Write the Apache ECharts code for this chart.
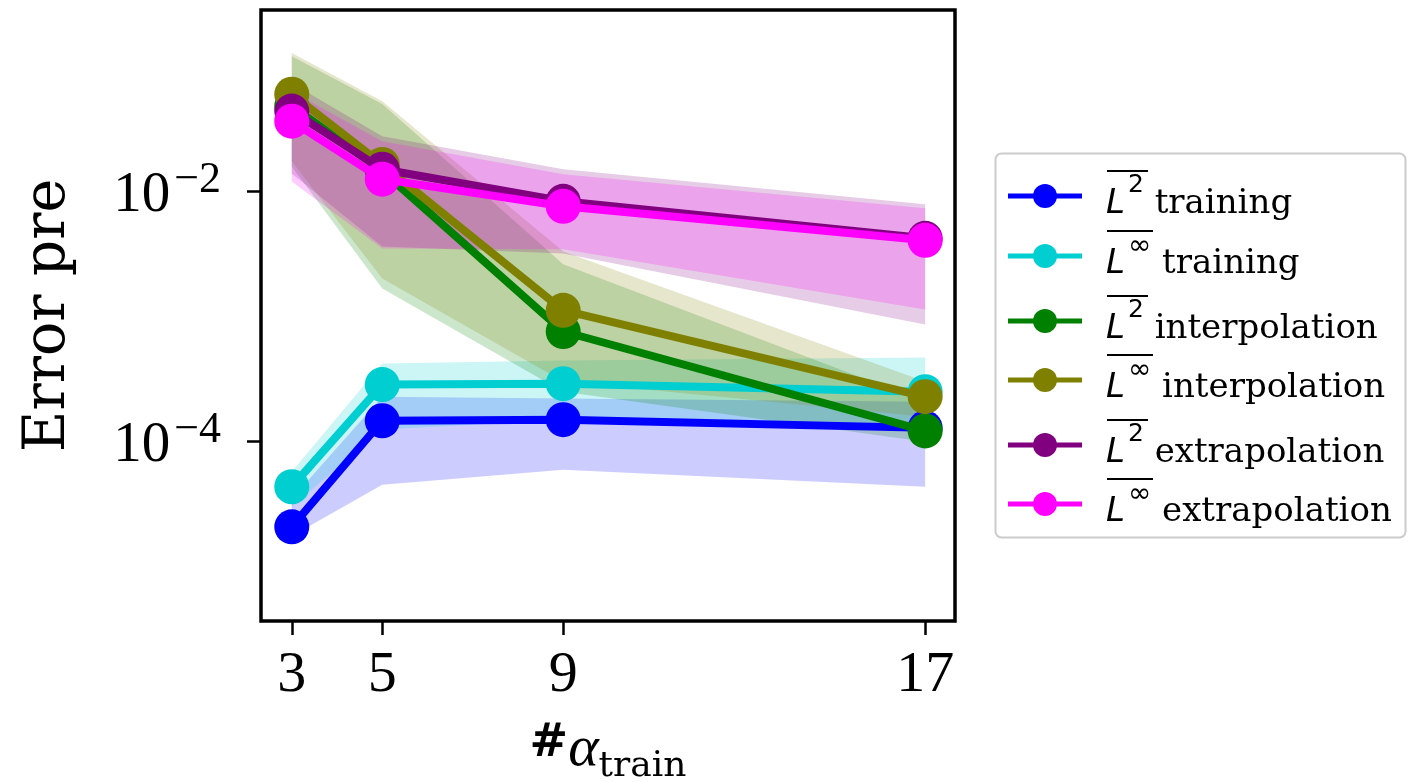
<!DOCTYPE html>
<html>
<head>
<meta charset="utf-8">
<script src="https://cdn.jsdelivr.net/npm/echarts@6/dist/echarts.min.js"></script>
<style>
  html, body { margin: 0; padding: 0; background: #fff; }
  #chart { width: 1414px; height: 782px; }
</style>
</head>
<body>
<div id="chart"></div>
<script>
// Number of training parameters (x positions)
const alphaTrain = [3, 5, 9, 17];
const xTickValues = [3, 5, 9, 17];
const yTickValues = [1e-4, 1e-2];

// Mean error and spread (lower / upper) for each metric
const l2TrainMean = [2.09e-5, 1.47e-4, 1.50e-4, 1.29e-4];
const l2TrainLow  = [1.77e-5, 4.53e-5, 5.97e-5, 4.37e-5];
const l2TrainHigh = [3.50e-5, 2.29e-4, 2.21e-4, 2.09e-4];

const linfTrainMean = [4.37e-5, 2.86e-4, 2.91e-4, 2.51e-4];
const linfTrainLow  = [3.02e-5, 1.25e-4, 1.50e-4, 1.32e-4];
const linfTrainHigh = [5.75e-5, 4.21e-4, 4.45e-4, 4.70e-4];

const l2InterpMean = [4.79e-2, 1.45e-2, 7.59e-4, 1.22e-4];
const l2InterpLow  = [1.58e-2, 1.67e-3, 2.51e-4, 1.00e-4];
const l2InterpHigh = [1.20e-1, 4.97e-2, 2.61e-3, 2.09e-4];

const linfInterpMean = [5.97e-2, 1.64e-2, 1.12e-3, 2.29e-4];
const linfInterpLow  = [1.74e-2, 2.01e-3, 3.02e-4, 1.58e-4];
const linfInterpHigh = [1.27e-1, 5.25e-2, 3.31e-3, 3.02e-4];

const l2ExtrapMean = [4.37e-2, 1.50e-2, 8.32e-3, 4.21e-3];
const l2ExtrapLow  = [1.39e-2, 3.63e-3, 3.19e-3, 8.63e-4];
const l2ExtrapHigh = [7.31e-2, 2.75e-2, 1.50e-2, 7.87e-3];

const linfExtrapMean = [3.63e-2, 1.25e-2, 7.59e-3, 4.06e-3];
const linfExtrapLow  = [1.20e-2, 3.50e-3, 3.44e-3, 1.14e-3];
const linfExtrapHigh = [6.31e-2, 2.51e-2, 1.37e-2, 7.31e-3];

const metrics = [
  { norm: '2', kind: 'training',      color: '#0000ff', mean: l2TrainMean,    low: l2TrainLow,    high: l2TrainHigh },
  { norm: '∞', kind: 'training',      color: '#00ced1', mean: linfTrainMean,  low: linfTrainLow,  high: linfTrainHigh },
  { norm: '2', kind: 'interpolation', color: '#008000', mean: l2InterpMean,   low: l2InterpLow,   high: l2InterpHigh },
  { norm: '∞', kind: 'interpolation', color: '#808000', mean: linfInterpMean, low: linfInterpLow, high: linfInterpHigh },
  { norm: '2', kind: 'extrapolation', color: '#800080', mean: l2ExtrapMean,   low: l2ExtrapLow,   high: l2ExtrapHigh },
  { norm: '∞', kind: 'extrapolation', color: '#ff00ff', mean: linfExtrapMean, low: linfExtrapLow, high: linfExtrapHigh }
];

function hexToRgba(hex, a) {
  const n = parseInt(hex.slice(1), 16);
  return 'rgba(' + ((n >> 16) & 255) + ',' + ((n >> 8) & 255) + ',' + (n & 255) + ',' + a + ')';
}

const chart = echarts.init(document.getElementById('chart'), null, { renderer: 'canvas' });

const series = [];

// Shaded spread bands, drawn as one polygon per metric
metrics.forEach(function (m, k) {
  series.push({
    type: 'custom',
    name: 'band' + k,
    coordinateSystem: 'cartesian2d',
    silent: true,
    z: 1,
    data: alphaTrain.map(function (x, i) { return [x, m.low[i], m.high[i]]; }),
    encode: { x: 0, y: [1, 2] },
    renderItem: function (params, api) {
      if (params.dataIndexInside !== 0) return null;
      const n = params.dataInsideLength;
      const upper = [], lower = [];
      for (let i = 0; i < n; i++) {
        const x = api.value(0, i);
        upper.push(api.coord([x, api.value(2, i)]));
        lower.push(api.coord([x, api.value(1, i)]));
      }
      return {
        type: 'polygon',
        shape: { points: upper.concat(lower.reverse()) },
        style: { fill: hexToRgba(m.color, 0.2), stroke: null }
      };
    }
  });
});

// Mean curves with markers
metrics.forEach(function (m, k) {
  series.push({
    type: 'line',
    name: m.norm + ' ' + m.kind,
    z: 3 + k,
    data: alphaTrain.map(function (x, i) { return [x, m.mean[i]]; }),
    symbol: 'circle',
    symbolSize: 35,
    showSymbol: true,
    lineStyle: { color: m.color, width: 8 },
    itemStyle: { color: m.color },
    emphasis: { disabled: true }
  });
});

// Legend built from the metric list
const legendRows = [196, 256, 321, 380, 445, 504];
const legendItems = [];
legendItems.push({
  type: 'rect',
  shape: { x: 995.5, y: 153.5, width: 410, height: 384, r: 6 },
  style: { fill: '#fff', stroke: '#cccccc', lineWidth: 2 },
  z: 100
});
metrics.forEach(function (m, k) {
  const y = legendRows[k];
  legendItems.push({
    type: 'line', z: 101,
    shape: { x1: 1008, y1: y, x2: 1082, y2: y },
    style: { stroke: m.color, lineWidth: 5 }
  });
  legendItems.push({
    type: 'circle', z: 102,
    shape: { cx: 1045, cy: y, r: 12 },
    style: { fill: m.color }
  });
  legendItems.push({
    type: 'text', z: 102,
    x: 1106, y: y + 1,
    style: {
      text: '{L|L}{s|' + m.norm + '}{t| ' + m.kind + '}',
      verticalAlign: 'middle',
      rich: {
        L: { fontFamily: 'DejaVu Sans', fontStyle: 'italic', fontSize: 34, fill: '#000', lineHeight: 48, verticalAlign: 'bottom' },
        s: { fontFamily: 'DejaVu Sans', fontSize: m.norm === '2' ? 25 : 28, fill: '#000', lineHeight: 48, verticalAlign: 'top', padding: [0, 0, 0, 3] },
        t: { fontFamily: 'DejaVu Serif', fontSize: 34, fill: '#000', lineHeight: 48, verticalAlign: 'bottom' }
      }
    }
  });
  legendItems.push({
    type: 'line', z: 102,
    shape: { x1: 1107, y1: y - 25, x2: m.norm === '2' ? 1148 : 1153, y2: y - 25 },
    style: { stroke: '#000', lineWidth: 2 }
  });
});

const option = {
  animation: false,
  backgroundColor: '#ffffff',
  grid: {
    left: 261, top: 10, right: 1414 - 955, bottom: 782 - 621,
    outerBoundsMode: 'none',
    containLabel: false,
    show: true, borderColor: '#000', borderWidth: 3.5, backgroundColor: 'transparent'
  },
  xAxis: {
    type: 'value',
    min: 2.32, max: 17.66,
    name: '{h|#}{a|α}{sub|train}',
    nameLocation: 'middle',
    nameGap: 100,
    nameTextStyle: {
      rich: {
        h: { fontFamily: 'DejaVu Sans', fontSize: 46, fontWeight: 'bold', color: '#000', lineHeight: 64, verticalAlign: 'top' },
        a: { fontFamily: 'Liberation Serif', fontStyle: 'italic', fontSize: 58, color: '#000', lineHeight: 64, verticalAlign: 'top' },
        sub: { fontFamily: 'DejaVu Serif', fontSize: 36, color: '#000', lineHeight: 64, verticalAlign: 'bottom' }
      }
    },
    axisLine: { show: false },
    splitLine: { show: false },
    axisTick: { show: true, length: 14, inside: false, customValues: xTickValues, lineStyle: { color: '#000', width: 2.5 } },
    axisLabel: { customValues: xTickValues, margin: 26, fontFamily: 'Liberation Serif', fontSize: 58, color: '#000' }
  },
  yAxis: {
    type: 'log',
    logBase: 10,
    min: 3.70e-6, max: 0.2805,
    name: 'Error pre',
    nameLocation: 'middle',
    nameGap: 183,
    nameRotate: 90,
    nameTextStyle: { fontFamily: 'DejaVu Serif', fontSize: 57, color: '#000' },
    axisLine: { show: false },
    splitLine: { show: false },
    minorTick: { show: false },
    axisTick: { show: true, length: 14, inside: false, customValues: yTickValues, lineStyle: { color: '#000', width: 2.5 } },
    axisLabel: {
      customValues: yTickValues,
      margin: 40,
      formatter: function (v) {
        const e = Math.round(Math.log10(v));
        return '{b|10}{s|−' + Math.abs(e) + '}';
      },
      rich: {
        b: { fontFamily: 'Liberation Serif', fontSize: 57, color: '#000', lineHeight: 66, verticalAlign: 'bottom' },
        s: { fontFamily: 'Liberation Serif', fontSize: 44, color: '#000', lineHeight: 66, verticalAlign: 'top', padding: [0, 0, 0, 4] }
      }
    }
  },
  graphic: legendItems,
  series: series
};

chart.setOption(option);
</script>
</body>
</html>
